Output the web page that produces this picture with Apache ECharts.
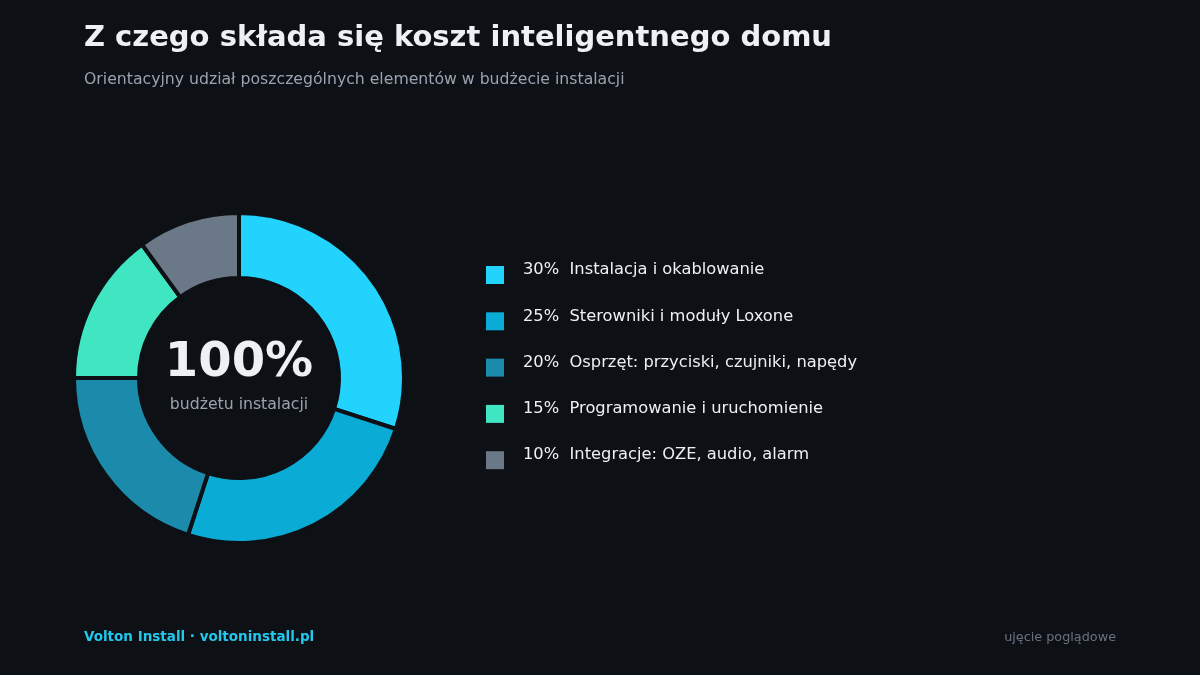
<!DOCTYPE html>
<html><head><meta charset="utf-8">
<script src="https://cdn.jsdelivr.net/npm/echarts@6/dist/echarts.min.js"></script>
<style>html,body{margin:0;padding:0;background:#0d1015;}#c{width:1200px;height:675px;}</style>
</head><body><div id="c"></div>
<script>
const categories = ['Instalacja i okablowanie','Sterowniki i moduły Loxone','Osprzęt: przyciski, czujniki, napędy','Programowanie i uruchomienie','Integracje: OZE, audio, alarm'];
const shares = [30, 25, 20, 15, 10];
const colors = ['#22d3fd','#0aabd4','#1b8aab','#3fe6c1','#6b7888'];
const bg = '#0d1015';
const FF = "'DejaVu Sans', sans-serif";
const chart = echarts.init(document.getElementById('c'));
const data = categories.map((n,i)=>({name:n,value:shares[i],itemStyle:{color:colors[i]}}));
chart.setOption({
  backgroundColor: bg,
  animation: false,
  title: [
    {text:'Z czego składa się koszt inteligentnego domu', left:84, top:24, padding:0,
     textStyle:{fontFamily:FF, fontSize:29, fontWeight:'bold', color:'#eef0f4'}},
    {text:'Orientacyjny udział poszczególnych elementów w budżecie instalacji', left:84, top:72, padding:0,
     textStyle:{fontFamily:FF, fontSize:15.7, fontWeight:'normal', color:'#9aa4b0'}},
    {text:'100%', left:239, top:340, textAlign:'center', padding:0,
     textStyle:{fontFamily:FF, fontSize:48, fontWeight:'bold', color:'#eef0f4'}},
    {text:'budżetu instalacji', left:239, top:397, textAlign:'center', padding:0,
     textStyle:{fontFamily:FF, fontSize:15.7, fontWeight:'normal', color:'#9aa4b0'}},
    {text:'Volton Install · voltoninstall.pl', left:84, top:630, padding:0,
     textStyle:{fontFamily:FF, fontSize:13.5, fontWeight:'bold', color:'#22c8ee'}},
    {text:'ujęcie poglądowe', right:84, top:631, padding:0,
     textStyle:{fontFamily:FF, fontSize:12.8, fontWeight:'normal', color:'#6b7380'}}
  ],
  legend: {
    orient:'vertical', left:486, top:262, padding:0, icon:'rect', itemWidth:18, itemHeight:18, itemGap:23.8,
    selectedMode:false,
    itemStyle:{borderWidth:0},
    formatter: name => '{t|' + shares[categories.indexOf(name)] + '%  ' + name + '}\n{s| }',
    textStyle:{fontFamily:FF, fontSize:16.3, color:'#eef0f4', padding:[0,0,0,14],
      rich:{
        t:{fontFamily:FF, fontSize:16.3, lineHeight:18, color:'#eef0f4'},
        s:{fontSize:1, lineHeight:10}
      }}
  },
  series: [{
    type:'pie', center:[239,378], radius:[100,165], startAngle:90, clockwise:true,
    label:{show:false}, labelLine:{show:false}, silent:true,
    itemStyle:{borderColor:bg, borderWidth:4},
    data
  }]
});
</script></body></html>
